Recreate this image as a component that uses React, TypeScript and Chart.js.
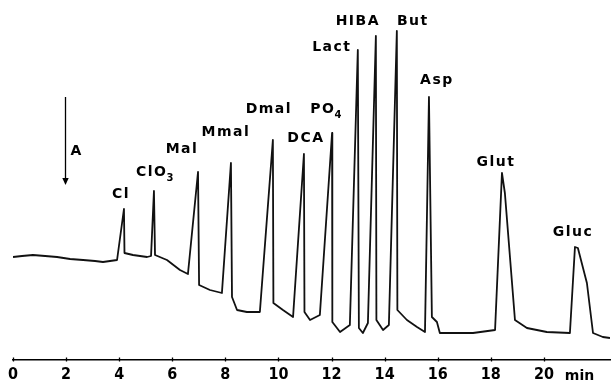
import React, { useEffect, useRef } from "react";
import { Chart, registerables } from "chart.js";

Chart.register(...registerables);

// Retention time (min) and detector signal (arbitrary units)
const times = [
  0.0, 0.34, 0.75, 1.21, 1.66, 2.15, 2.64, 3.09, 3.39, 3.92,
  4.18, 4.2, 4.52, 5.05, 5.2, 5.31, 5.35, 5.8, 6.29, 6.59,
  6.97, 7.01, 7.42, 7.87, 8.21, 8.25, 8.44, 8.81, 9.3, 9.79,
  9.81, 10.17, 10.55, 10.96, 10.98, 11.19, 11.56, 12.02, 12.03, 12.32,
  12.69, 12.99, 13.03, 13.18, 13.37, 13.67, 13.69, 13.94, 14.16, 14.46,
  14.48, 14.84, 15.22, 15.52, 15.67, 15.78, 15.97, 16.08, 16.57, 17.33,
  18.16, 18.42, 18.53, 18.91, 19.36, 20.11, 20.98, 21.17, 21.28, 21.62,
  21.85, 22.22, 22.49,
];
const signal = [
  10.3, 10.4, 10.5, 10.4, 10.3, 10.1, 10.0, 9.9, 9.8, 10.0,
  15.1, 10.7, 10.5, 10.3, 10.4, 16.9, 10.5, 10.0, 9.0, 8.6,
  18.8, 7.5, 7.0, 6.7, 19.7, 6.3, 5.0, 4.8, 4.8, 22.0,
  5.7, 5.0, 4.3, 20.6, 4.8, 4.0, 4.5, 22.7, 3.8, 2.8,
  3.5, 31.0, 3.2, 2.7, 3.7, 32.4, 4.0, 3.0, 3.5, 32.9,
  5.0, 4.0, 3.3, 2.8, 26.3, 4.3, 3.8, 2.7, 2.7, 2.7,
  3.0, 18.7, 16.7, 4.0, 3.2, 2.8, 2.7, 11.3, 11.2, 7.7,
  2.7, 2.3, 2.2,
];

// Peak annotations
const peakNames = ["Cl", "ClO", "Mal", "Mmal", "Dmal", "DCA", "PO", "Lact", "HIBA", "But", "Asp", "Glut", "Gluc"];
const peakSubscripts = ["", "3", "", "", "", "", "4", "", "", "", "", "", ""];
const peakTimes = [4.18, 5.31, 6.97, 8.21, 9.79, 10.96, 12.02, 12.99, 13.67, 14.46, 15.67, 18.42, 21.17];

// Axis
const tickValues = [0, 2, 4, 6, 8, 10, 12, 14, 16, 18, 20];
const axisUnit = "min";
const unitTime = 20.79;
const xMin = 0;
const xMax = 22.49;
const yMin = 0;
const yMax = 36;

// Injection marker
const injectionLabel = "A";
const injectionTime = 1.96;
const injectionFrom = 26.3;
const injectionTo = 17.5;

// label layout offsets (px) relative to the peak apex: [dx, dy] to label cap centre
const labelOffsets: [number, number][] = [
  [-3, -16], [2, -20], [-16, -24], [-5, -32], [-4, -32], [2, -17], [-5, -25],
  [-26, -4], [-18, -16], [16, -11], [8, -18], [-6, -12], [-2, -16],
];

const LABEL_FONT = 'bold 14px "DejaVu Sans"';
const SUB_FONT = 'bold 10px "DejaVu Sans"';
const TICK_FONT_FAMILY = '"Liberation Sans Narrow", "DejaVu Sans Condensed", "DejaVu Sans", sans-serif';

const annotPlugin = {
  id: "annot",
  afterDatasetsDraw(chart: any) {
    const { ctx, scales, chartArea } = chart;
    const x = scales.x;
    const y = scales.y;
    ctx.save();
    ctx.fillStyle = "#000";
    ctx.strokeStyle = "#000";

    // small tick marks on the axis line
    ctx.lineWidth = 1.3;
    tickValues.forEach((v) => {
      const px = Math.round(x.getPixelForValue(v)) + 0.5;
      ctx.beginPath();
      ctx.moveTo(px, chartArea.bottom - 2.5);
      ctx.lineTo(px, chartArea.bottom + 1.5);
      ctx.stroke();
    });

    // unit label
    ctx.font = 'bold 14px "DejaVu Sans"';
    ctx.textAlign = "left";
    ctx.textBaseline = "alphabetic";
    ctx.fillText(axisUnit, x.getPixelForValue(unitTime), chartArea.bottom + 20);

    // peak labels
    (ctx as any).letterSpacing = "1.5px";
    peakNames.forEach((name, i) => {
      const t = peakTimes[i];
      const idx = times.indexOf(t);
      const px = x.getPixelForValue(t);
      const py = y.getPixelForValue(signal[idx]);
      const [dx, dy] = labelOffsets[i];
      ctx.font = LABEL_FONT;
      const w1 = ctx.measureText(name).width;
      let w2 = 0;
      if (peakSubscripts[i]) {
        ctx.font = SUB_FONT;
        w2 = ctx.measureText(peakSubscripts[i]).width;
      }
      const left = px + dx - (w1 + w2) / 2;
      const base = py + dy + 5;
      ctx.font = LABEL_FONT;
      ctx.fillText(name, left, base);
      if (peakSubscripts[i]) {
        ctx.font = SUB_FONT;
        ctx.fillText(peakSubscripts[i], left + w1 - 1, base + 5);
      }
    });

    // injection arrow
    const ax = Math.round(x.getPixelForValue(injectionTime)) + 0.5;
    const ay1 = y.getPixelForValue(injectionFrom);
    const ay2 = y.getPixelForValue(injectionTo);
    ctx.lineWidth = 1.3;
    ctx.beginPath();
    ctx.moveTo(ax, ay1);
    ctx.lineTo(ax, ay2 - 5);
    ctx.stroke();
    ctx.beginPath();
    ctx.moveTo(ax, ay2);
    ctx.lineTo(ax - 3.2, ay2 - 7);
    ctx.lineTo(ax + 3.2, ay2 - 7);
    ctx.closePath();
    ctx.fill();
    ctx.font = LABEL_FONT;
    ctx.textAlign = "left";
    ctx.fillText(injectionLabel, ax + 5, (ay1 + ay2) / 2 + 13.5);

    ctx.restore();
  },
};

export default function App() {
  const canvasRef = useRef<HTMLCanvasElement | null>(null);

  useEffect(() => {
    const canvas = canvasRef.current;
    if (!canvas) return;
    const chart = new Chart(canvas, {
      type: "line",
      data: {
        datasets: [
          {
            data: times.map((t, i) => ({ x: t, y: signal[i] })),
            borderColor: "#111",
            borderWidth: 1.8,
            borderJoinStyle: "round",
            pointRadius: 0,
            tension: 0,
            fill: false,
          },
        ],
      },
      options: {
        animation: false,
        responsive: false,
        maintainAspectRatio: false,
        layout: { padding: { left: 13, right: 1, top: 0, bottom: 0 } },
        plugins: {
          legend: { display: false },
          tooltip: { enabled: false },
        },
        scales: {
          x: {
            type: "linear",
            min: xMin,
            max: xMax,
            afterBuildTicks: (s: any) => {
              s.ticks = tickValues.map((v) => ({ value: v }));
            },
            afterFit: (s: any) => {
              s.height = 23;
            },
            grid: { display: false, drawTicks: false },
            border: { display: true, color: "#000", width: 1.5 },
            ticks: {
              autoSkip: false,
              maxRotation: 0,
              padding: 5,
              color: "#000",
              font: { family: TICK_FONT_FAMILY, weight: "bold", size: 16 },
            },
          },
          y: {
            type: "linear",
            display: false,
            min: yMin,
            max: yMax,
          },
        },
      },
      plugins: [annotPlugin],
    } as any);
    return () => chart.destroy();
  }, []);

  return (
    <div style={{ position: "fixed", left: 0, top: 0, width: 611, height: 383, background: "#fff" }}>
      <canvas ref={canvasRef} width={611} height={383} />
    </div>
  );
}
